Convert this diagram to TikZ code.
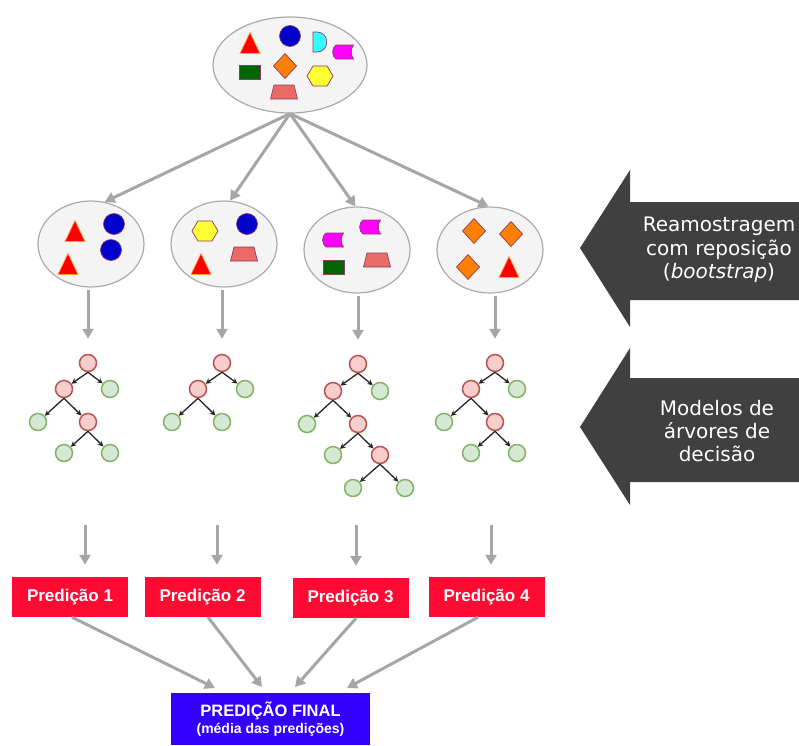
\documentclass[tikz,border=0pt]{standalone}
\usepackage{fontspec}
\setmainfont{Liberation Sans}
\newfontfamily\arrowfont{DejaVu Sans}
\usetikzlibrary{shapes.geometric,arrows.meta}
\definecolor{ellfill}{RGB}{244,244,244}
\definecolor{ellline}{RGB}{170,170,170}
\definecolor{arrgray}{RGB}{166,166,166}
\definecolor{darkarrow}{RGB}{64,64,64}
\definecolor{predred}{RGB}{255,10,50}
\definecolor{finalblue}{RGB}{51,0,255}
\definecolor{infill}{RGB}{248,206,204}
\definecolor{inline}{RGB}{184,84,80}
\definecolor{leaffill}{RGB}{213,232,212}
\definecolor{leafline}{RGB}{130,179,102}
\definecolor{shpborder}{RGB}{140,60,100}
\definecolor{tribord}{RGB}{255,160,60}
\definecolor{shpblue}{RGB}{0,0,204}
\definecolor{shpcyan}{RGB}{51,255,255}
\definecolor{shpmag}{RGB}{255,0,255}
\definecolor{shpgreen}{RGB}{0,100,0}
\definecolor{shporange}{RGB}{255,128,0}
\definecolor{shpyellow}{RGB}{255,255,51}
\definecolor{shppink}{RGB}{234,107,102}
\tikzset{
  ellbox/.style={ellipse, draw=ellline, fill=ellfill, line width=1.2pt, inner sep=0pt},
  grayarrow/.style={draw=arrgray, line width=3pt, -{Triangle[length=10pt,width=11pt]}},
  treein/.style={circle, draw=inline, fill=infill, line width=1.5pt, minimum size=17pt, inner sep=0pt},
  treeleaf/.style={circle, draw=leafline, fill=leaffill, line width=1.5pt, minimum size=17pt, inner sep=0pt},
  treearrow/.style={draw=black!85, line width=1.3pt, -{Stealth[length=5.5pt,width=5.5pt]}},
  predbox/.style={fill=predred, text=white, minimum width=116pt, minimum height=40pt, inner sep=0pt,
    font=\fontsize{17}{20}\selectfont\bfseries},
  finalbox/.style={fill=finalblue, text=white, minimum width=199pt, minimum height=52pt, inner sep=0pt, align=center},
  bigarrow/.style={fill=darkarrow},
  arrowtext/.style={text=white, align=center, font=\arrowfont\fontsize{20}{23.3}\selectfont},
  shp/.style={draw=shpborder, line width=0.7pt},
  pics/tri/.style={code={\path[shp, draw=tribord, fill=red] (-10,10.5) -- (10,10.5) -- (0,-10.5) -- cycle;}},
  pics/circ/.style={code={\path[shp, fill=shpblue] (0,0) circle[radius=10.5];}},
  pics/dsh/.style={code={\path[shp, fill=shpcyan] (-7,-10) -- (-3,-10) .. controls (10,-10) and (10,10) .. (-3,10) -- (-7,10) -- cycle;}},
  pics/stor/.style={code={\path[shp, fill=shpmag] (-7,-7) -- (10.5,-7) .. controls (7.5,-3) and (7.5,3) .. (10.5,7) -- (-7,7) .. controls (-11.5,4) and (-11.5,-4) .. (-7,-7) -- cycle;}},
  pics/rectg/.style={code={\path[shp, fill=shpgreen] (-10.5,-7) rectangle (10.5,7);}},
  pics/diam/.style={code={\path[shp, fill=shporange] (-11.5,0) -- (0,-12.5) -- (11.5,0) -- (0,12.5) -- cycle;}},
  pics/hexa/.style={code={\path[shp, fill=shpyellow] (-13,0) -- (-7,-10) -- (7,-10) -- (13,0) -- (7,10) -- (-7,10) -- cycle;}},
  pics/trap/.style={code={\path[shp, fill=shppink] (-13.5,7) -- (13.5,7) -- (10,-7) -- (-10,-7) -- cycle;}},
}
\begin{document}
\begin{tikzpicture}[x=1pt,y=-1pt]
\useasboundingbox (0,0) rectangle (799,745);

% ---- top ellipse ----
\node[ellbox, minimum width=154pt, minimum height=96pt] (top) at (290,65) {};
\pic at (250,43) {tri};
\pic at (290,36) {circ};
\pic at (320,42) {dsh};
\pic at (343,52) {stor};
\pic at (250,72) {rectg};
\pic at (285,66) {diam};
\pic at (320,76) {hexa};
\pic at (284,92) {trap};

% ---- bootstrap samples ----
\node[ellbox, minimum width=106pt, minimum height=86pt] (e1) at (91,244) {};
\node[ellbox, minimum width=106pt, minimum height=86pt] (e2) at (224,244) {};
\node[ellbox, minimum width=106pt, minimum height=86pt] (e3) at (357,250) {};
\node[ellbox, minimum width=106pt, minimum height=86pt] (e4) at (490,250) {};

\pic at (75,231) {tri};
\pic at (114,224) {circ};
\pic at (111,250) {circ};
\pic at (68,264) {tri};

\pic at (205,231) {hexa};
\pic at (247,224) {circ};
\pic at (244,254) {trap};
\pic at (201,264) {tri};

\pic at (370,227) {stor};
\pic at (333,240) {stor};
\pic at (334,267) {rectg};
\pic at (377,260) {trap};

\pic at (474,231) {diam};
\pic at (511,234) {diam};
\pic at (468,267) {diam};
\pic at (509,267) {tri};

\draw[grayarrow] (top.south) -- (e1.72);
\draw[grayarrow] (top.south) -- (e2.82);
\draw[grayarrow] (top.south) -- (e3.92);
\draw[grayarrow] (top.south) -- (e4.92);

% ---- trees ----
% tree 1
\node[treein] (t1r) at (88,363) {};
\node[treein] (t1a) at (64,389) {};
\node[treeleaf] (t1b) at (110,389) {};
\node[treeleaf] (t1c) at (38,422) {};
\node[treein] (t1d) at (88,422) {};
\node[treeleaf] (t1e) at (64,453) {};
\node[treeleaf] (t1f) at (110,453) {};
\draw[treearrow] (t1r.south) -- (t1a);
\draw[treearrow] (t1r.south) -- (t1b);
\draw[treearrow] (t1a.south) -- (t1c);
\draw[treearrow] (t1a.south) -- (t1d);
\draw[treearrow] (t1d.south) -- (t1e);
\draw[treearrow] (t1d.south) -- (t1f);
% tree 2
\node[treein] (t2r) at (222,363) {};
\node[treein] (t2a) at (198,389) {};
\node[treeleaf] (t2b) at (245,389) {};
\node[treeleaf] (t2c) at (172,422) {};
\node[treeleaf] (t2d) at (222,422) {};
\draw[treearrow] (t2r.south) -- (t2a);
\draw[treearrow] (t2r.south) -- (t2b);
\draw[treearrow] (t2a.south) -- (t2c);
\draw[treearrow] (t2a.south) -- (t2d);
% tree 3
\node[treein] (t3r) at (358,364) {};
\node[treein] (t3a) at (333,391) {};
\node[treeleaf] (t3b) at (380,391) {};
\node[treeleaf] (t3c) at (307,424) {};
\node[treein] (t3d) at (358,424) {};
\node[treeleaf] (t3e) at (333,455) {};
\node[treein] (t3g) at (380,455) {};
\node[treeleaf] (t3h) at (353,488) {};
\node[treeleaf] (t3i) at (405,488) {};
\draw[treearrow] (t3r.south) -- (t3a);
\draw[treearrow] (t3r.south) -- (t3b);
\draw[treearrow] (t3a.south) -- (t3c);
\draw[treearrow] (t3a.south) -- (t3d);
\draw[treearrow] (t3d.south) -- (t3e);
\draw[treearrow] (t3d.south) -- (t3g);
\draw[treearrow] (t3g.south) -- (t3h);
\draw[treearrow] (t3g.south) -- (t3i);
% tree 4
\node[treein] (t4r) at (495,363) {};
\node[treein] (t4a) at (471,389) {};
\node[treeleaf] (t4b) at (517,389) {};
\node[treeleaf] (t4c) at (444,422) {};
\node[treein] (t4d) at (495,422) {};
\node[treeleaf] (t4e) at (471,453) {};
\node[treeleaf] (t4f) at (517,453) {};
\draw[treearrow] (t4r.south) -- (t4a);
\draw[treearrow] (t4r.south) -- (t4b);
\draw[treearrow] (t4a.south) -- (t4c);
\draw[treearrow] (t4a.south) -- (t4d);
\draw[treearrow] (t4d.south) -- (t4e);
\draw[treearrow] (t4d.south) -- (t4f);

% sample -> tree
\draw[grayarrow, shorten <=2pt, shorten >=15pt] (t1r |- e1.south) -- (t1r);
\draw[grayarrow, shorten <=2pt, shorten >=15pt] (t2r |- e2.south) -- (t2r);
\draw[grayarrow, shorten <=2pt, shorten >=15pt] (t3r |- e3.south) -- (t3r);
\draw[grayarrow, shorten <=2pt, shorten >=15pt] (t4r |- e4.south) -- (t4r);

% ---- predictions ----
\node[predbox] (p1) at (70,597) {Predição 1};
\node[predbox] (p2) at (202.5,597) {Predição 2};
\node[predbox] (p3) at (350.5,598) {Predição 3};
\node[predbox] (p4) at (486.5,597) {Predição 4};

\coordinate (d1) at (85,525);
\coordinate (d2) at (217,525);
\coordinate (d3) at (356,525);
\coordinate (d4) at (491,525);
\draw[grayarrow, shorten >=12pt] (d1) -- (d1 |- p1.north);
\draw[grayarrow, shorten >=12pt] (d2) -- (d2 |- p2.north);
\draw[grayarrow, shorten >=12pt] (d3) -- (d3 |- p3.north);
\draw[grayarrow, shorten >=12pt] (d4) -- (d4 |- p4.north);

% ---- final ----
\node[finalbox] (fin) at (270.5,719) {{\fontsize{16.5}{16}\selectfont\bfseries PREDIÇÃO FINAL}\\[3pt]{\fontsize{14}{16}\selectfont\bfseries (média das predições)}};
\coordinate (f1) at (215,688);
\coordinate (f2) at (262,687);
\coordinate (f3) at (295,687);
\coordinate (f4) at (347,688);
\draw[grayarrow] ([xshift=2pt]p1.south) -- (f1);
\draw[grayarrow] ([xshift=5.5pt]p2.south) -- (f2);
\draw[grayarrow] ([xshift=5.5pt]p3.south) -- (f3);
\draw[grayarrow] ([xshift=-8.5pt]p4.south) -- (f4);

% ---- big side arrows ----
\fill[bigarrow] (800,202) -- (630,202) -- (630,170) -- (580,248) -- (630,327) -- (630,300) -- (800,300) -- cycle;
\fill[bigarrow] (800,378) -- (630,378) -- (630,348) -- (580,427) -- (630,505) -- (630,482) -- (800,482) -- cycle;
\node[arrowtext] (lab1) at (719,250) {Reamostragem\\com reposição\\(\textit{bootstrap})};
\node[arrowtext] (lab2) at (717,431) {Modelos de\\árvores de\\decisão};
\end{tikzpicture}
\end{document}
